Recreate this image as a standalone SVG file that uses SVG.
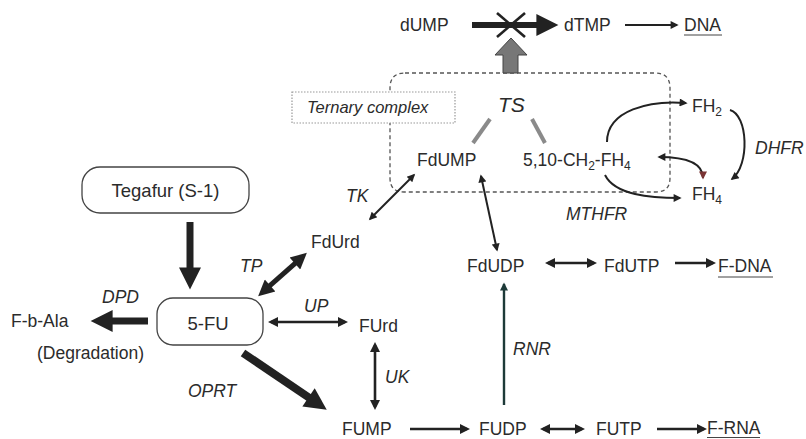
<svg xmlns="http://www.w3.org/2000/svg" width="806" height="439" viewBox="0 0 806 439">
<style>
text{font-family:"Liberation Sans",Arial,sans-serif;font-size:17.5px;fill:#2b2b2b}
.it{font-style:italic}
.bx{fill:#fff;stroke:#444;stroke-width:1.3}
.thk{stroke:#222;fill:none}
.med{stroke:#222;stroke-width:2.6;fill:none}
.thn{stroke:#222;stroke-width:2;fill:none}
.ul{stroke:#444;stroke-width:1.2}
</style>
<defs>
<marker id="hT" viewBox="0 0 10 10" refX="3" refY="5" markerWidth="26" markerHeight="22" markerUnits="userSpaceOnUse" orient="auto-start-reverse"><path d="M0,0L10,5L0,10z" fill="#222"/></marker>
<marker id="hM" viewBox="0 0 10 10" refX="3" refY="5" markerWidth="18" markerHeight="16" markerUnits="userSpaceOnUse" orient="auto-start-reverse"><path d="M0,0L10,5L0,10z" fill="#222"/></marker>
<marker id="hm" viewBox="0 0 10 10" refX="7" refY="5" markerWidth="12" markerHeight="10" markerUnits="userSpaceOnUse" orient="auto-start-reverse"><path d="M0,0L10,5L0,10z" fill="#222"/></marker>
<marker id="hs" viewBox="0 0 10 10" refX="8" refY="5" markerWidth="11" markerHeight="8" markerUnits="userSpaceOnUse" orient="auto-start-reverse"><path d="M0,0L10,5L0,10z" fill="#222"/></marker>
<marker id="hr" viewBox="0 0 10 10" refX="8" refY="5" markerWidth="11" markerHeight="8" markerUnits="userSpaceOnUse" orient="auto-start-reverse"><path d="M0,0L10,5L0,10z" fill="#7a3434"/></marker>
<marker id="hg" viewBox="0 0 10 10" refX="8" refY="5" markerWidth="11" markerHeight="8" markerUnits="userSpaceOnUse" orient="auto-start-reverse"><path d="M0,0L10,5L0,10z" fill="#1d3a38"/></marker>
</defs>

<g id="complex">
<path d="M405,73H655Q670,73 670,88V178Q670,192 656,192H404Q390,192 390,178V88Q390,73 405,73Z" fill="none" stroke="#555" stroke-width="1.3" stroke-dasharray="4 3"/>
</g>

<g id="connectors">
<line x1="472" y1="25" x2="543" y2="25" class="thk" stroke-width="6" marker-end="url(#hT)"/>
<line x1="497" y1="13" x2="525" y2="37" stroke="#222" stroke-width="2.6"/>
<line x1="525" y1="13" x2="497" y2="37" stroke="#222" stroke-width="2.6"/>
<path d="M503,73V55H495L511,38L527,55H518V73Z" fill="#777" stroke="#444" stroke-width="1"/>
<line x1="625" y1="25" x2="677" y2="25" class="thn" marker-end="url(#hs)"/>
<line x1="490" y1="119" x2="473" y2="143" stroke="#8a8a8a" stroke-width="4"/>
<line x1="532" y1="119" x2="545" y2="143" stroke="#8a8a8a" stroke-width="4"/>
<path d="M607,142C607,110 650,100 686,103" class="thn" marker-end="url(#hs)"/>
<path d="M605,175C615,195 650,198 680,198" class="thn" marker-end="url(#hs)"/>
<path d="M659,157C690,157 703,165 703,178" class="thn" marker-start="url(#hs)" marker-end="url(#hr)"/>
<path d="M730,110C748,115 750,165 732,179" class="thn" marker-end="url(#hs)"/>
<line x1="190" y1="222" x2="190" y2="274" class="thk" stroke-width="7" marker-end="url(#hT)"/>
<line x1="148" y1="321" x2="106" y2="321" class="thk" stroke-width="7" marker-end="url(#hT)"/>
<line x1="243" y1="353" x2="314" y2="401" class="thk" stroke-width="8" marker-end="url(#hT)"/>
<line x1="266.5" y1="288.7" x2="298.5" y2="260.3" class="thk" stroke-width="5" marker-start="url(#hM)" marker-end="url(#hM)"/>
<line x1="370" y1="219" x2="414" y2="175" class="thn" marker-start="url(#hs)" marker-end="url(#hs)"/>
<line x1="271" y1="322" x2="345" y2="322" class="med" marker-start="url(#hm)" marker-end="url(#hm)"/>
<line x1="375" y1="345" x2="375" y2="407" class="med" marker-start="url(#hm)" marker-end="url(#hm)"/>
<line x1="481" y1="176" x2="497" y2="250" class="thn" marker-start="url(#hs)" marker-end="url(#hs)"/>
<line x1="548" y1="263" x2="594" y2="263" class="med" marker-start="url(#hm)" marker-end="url(#hm)"/>
<line x1="675" y1="263" x2="713" y2="263" class="med" marker-end="url(#hm)"/>
<line x1="504" y1="405" x2="504" y2="284" stroke="#1d3a38" stroke-width="2.4" marker-end="url(#hg)"/>
<line x1="410" y1="429" x2="467" y2="429" class="med" marker-end="url(#hm)"/>
<line x1="543" y1="429" x2="582" y2="429" class="med" marker-start="url(#hm)" marker-end="url(#hm)"/>
<line x1="657" y1="429" x2="704" y2="429" class="med" marker-end="url(#hm)"/>
</g>

<g id="ternary"><rect x="292" y="92" width="163" height="31" fill="#fff" stroke="#999" stroke-width="1.2" stroke-dasharray="1.5 1.5"/><text x="307" y="113" class="it" style="font-size:16.5px">Ternary complex</text></g>
<g id="dUMP"><text x="400" y="31">dUMP</text></g>
<g id="dTMP"><text x="564" y="31">dTMP</text></g>
<g id="DNA"><text x="684" y="31">DNA</text><line x1="684" y1="35" x2="722" y2="35" class="ul"/></g>
<g id="TS"><text x="498" y="112" class="it" style="font-size:21px">TS</text></g>
<g id="FdUMP"><text x="417" y="166">FdUMP</text></g>
<g id="CH2FH4"><text x="523" y="166">5,10-CH<tspan dy="4" style="font-size:12px">2</tspan><tspan dy="-4">-FH</tspan><tspan dy="4" style="font-size:12px">4</tspan></text></g>
<g id="FH2"><text x="692" y="112">FH<tspan dy="4" style="font-size:12px">2</tspan></text></g>
<g id="FH4"><text x="692" y="200">FH<tspan dy="4" style="font-size:12px">4</tspan></text></g>
<g id="DHFR"><text x="755" y="154" class="it">DHFR</text></g>
<g id="MTHFR"><text x="566" y="220" class="it">MTHFR</text></g>
<g id="Tegafur"><rect x="82" y="167" width="167" height="46" rx="18" class="bx"/><text x="165.5" y="197" text-anchor="middle" style="font-size:18.5px">Tegafur (S-1)</text></g>
<g id="FU"><rect x="157" y="298" width="106" height="47" rx="16" class="bx"/><text x="208" y="330" text-anchor="middle" style="font-size:18.5px">5-FU</text></g>
<g id="FbAla"><text x="11" y="327">F-b-Ala</text></g>
<g id="Degradation"><text x="37" y="359">(Degradation)</text></g>
<g id="DPD"><text x="102" y="303" class="it">DPD</text></g>
<g id="OPRT"><text x="188" y="397" class="it">OPRT</text></g>
<g id="TP"><text x="240" y="272" class="it">TP</text></g>
<g id="FdUrd"><text x="311" y="248">FdUrd</text></g>
<g id="TK"><text x="346" y="202" class="it">TK</text></g>
<g id="UP"><text x="304" y="312" class="it">UP</text></g>
<g id="FUrd"><text x="359" y="332">FUrd</text></g>
<g id="UK"><text x="385" y="383" class="it">UK</text></g>
<g id="FUMP"><text x="342" y="435">FUMP</text></g>
<g id="FUDP"><text x="479" y="435">FUDP</text></g>
<g id="FUTP"><text x="596" y="435">FUTP</text></g>
<g id="FRNA"><text x="707" y="434">F-RNA</text><line x1="707" y1="437.5" x2="760" y2="437.5" class="ul"/></g>
<g id="RNR"><text x="513" y="355" class="it">RNR</text></g>
<g id="FdUDP"><text x="467" y="272">FdUDP</text></g>
<g id="FdUTP"><text x="604" y="272">FdUTP</text></g>
<g id="FDNA"><text x="718" y="272">F-DNA</text><line x1="718" y1="277" x2="773" y2="277" class="ul"/></g>
</svg>
